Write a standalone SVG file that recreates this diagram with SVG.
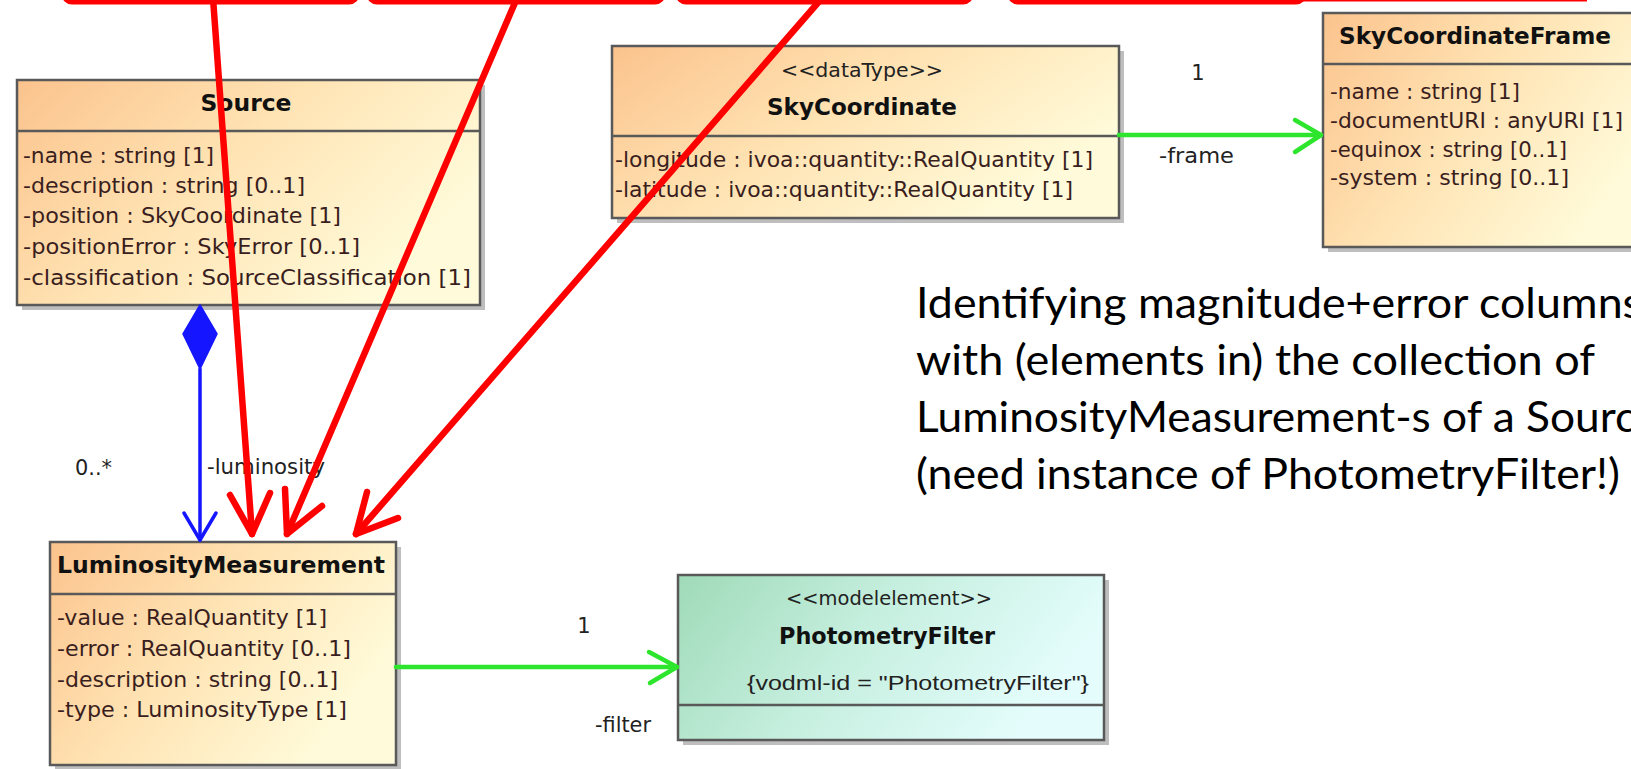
<svg xmlns="http://www.w3.org/2000/svg" width="1631" height="769" viewBox="0 0 1631 769">
<defs>
<linearGradient id="gOrange" x1="0" y1="0" x2="1" y2="0.5">
<stop offset="0" stop-color="#fbc38d"/>
<stop offset="0.5" stop-color="#ffe3b3"/>
<stop offset="1" stop-color="#fffbda"/>
</linearGradient>
<linearGradient id="gGreen" x1="0" y1="0" x2="1" y2="0.3">
<stop offset="0" stop-color="#9fdab8"/>
<stop offset="0.5" stop-color="#c6efdf"/>
<stop offset="1" stop-color="#e4fdfc"/>
</linearGradient>
<style>
.box{stroke:#595959;stroke-width:2.5}
.orange{fill:url(#gOrange)}
.green{fill:url(#gGreen)}
.shadow{fill:#a8a8a8;opacity:0.75}
.div{stroke:#595959;stroke-width:2.5}
.title{font-family:"DejaVu Sans",sans-serif;font-weight:bold;font-size:23px;fill:#111}
.stereo{font-family:"DejaVu Sans",sans-serif;font-size:19px;fill:#222}
.attr{font-family:"DejaVu Sans",sans-serif;font-size:21px;fill:#3a1e1e}
.lbl{font-family:"DejaVu Sans",sans-serif;font-size:21px;fill:#222}
.tag{font-family:"Liberation Sans",sans-serif;font-size:21px;fill:#222}
.note{font-family:"Lato","Open Sans",sans-serif;font-size:42px;fill:#000}
.red{stroke:#ff0000;stroke-width:6.5;fill:none;stroke-linecap:round;stroke-linejoin:round}
.redbox{stroke:#ff0000;stroke-width:5;fill:#fff}
.green-l{stroke:#2ee52e;stroke-width:4.5;fill:none;stroke-linecap:round;stroke-linejoin:round}
.blue-l{stroke:#1515ff;stroke-width:3.5;fill:none;stroke-linecap:round;stroke-linejoin:round}
</style>
</defs>
<rect width="1631" height="769" fill="#fff"/>

<!-- top red boxes -->
<g id="topboxes">
<rect class="redbox" x="64" y="-40" width="293" height="42" rx="8"/>
<rect class="redbox" x="369" y="-40" width="294" height="42" rx="8"/>
<rect class="redbox" x="678" y="-40" width="293" height="42" rx="8"/>
<rect class="redbox" x="1010" y="-40" width="294" height="42" rx="8"/>
<line x1="1300" y1="0.5" x2="1587" y2="0.5" stroke="#ff0000" stroke-width="2"/>
</g>

<!-- Source -->
<g id="Source">
<rect class="shadow" x="22" y="85" width="463" height="225"/>
<rect class="box orange" x="17" y="80" width="463" height="225"/>
<line class="div" x1="17" y1="131" x2="480" y2="131"/>
<text class="title" x="246" y="111" text-anchor="middle" textLength="91" lengthAdjust="spacingAndGlyphs">Source</text>
<text class="attr" x="23" y="163" textLength="191" lengthAdjust="spacingAndGlyphs">-name : string [1]</text>
<text class="attr" x="23" y="193" textLength="282" lengthAdjust="spacingAndGlyphs">-description : string [0..1]</text>
<text class="attr" x="23" y="223" textLength="318" lengthAdjust="spacingAndGlyphs">-position : SkyCoordinate [1]</text>
<text class="attr" x="23" y="254" textLength="337" lengthAdjust="spacingAndGlyphs">-positionError : SkyError [0..1]</text>
<text class="attr" x="23" y="285" textLength="448" lengthAdjust="spacingAndGlyphs">-classification : SourceClassification [1]</text>
</g>

<!-- SkyCoordinate -->
<g id="SkyCoordinate">
<rect class="shadow" x="617" y="51" width="507" height="172"/>
<rect class="box orange" x="612" y="46" width="507" height="172"/>
<line class="div" x1="612" y1="136" x2="1119" y2="136"/>
<text class="stereo" x="862" y="77" text-anchor="middle" textLength="162" lengthAdjust="spacingAndGlyphs">&lt;&lt;dataType&gt;&gt;</text>
<text class="title" x="862" y="115" text-anchor="middle" textLength="190" lengthAdjust="spacingAndGlyphs">SkyCoordinate</text>
<text class="attr" x="615" y="167" textLength="478" lengthAdjust="spacingAndGlyphs">-longitude : ivoa::quantity::RealQuantity [1]</text>
<text class="attr" x="615" y="197" textLength="458" lengthAdjust="spacingAndGlyphs">-latitude : ivoa::quantity::RealQuantity [1]</text>
</g>

<!-- SkyCoordinateFrame -->
<g id="SkyCoordinateFrame">
<rect class="shadow" x="1328" y="18" width="340" height="234"/>
<rect class="box orange" x="1323" y="13" width="340" height="234"/>
<line class="div" x1="1323" y1="64" x2="1663" y2="64"/>
<text class="title" x="1339" y="44" textLength="272" lengthAdjust="spacingAndGlyphs">SkyCoordinateFrame</text>
<text class="attr" x="1330" y="99" textLength="190" lengthAdjust="spacingAndGlyphs">-name : string [1]</text>
<text class="attr" x="1330" y="128" textLength="293" lengthAdjust="spacingAndGlyphs">-documentURI : anyURI [1]</text>
<text class="attr" x="1330" y="157" textLength="237" lengthAdjust="spacingAndGlyphs">-equinox : string [0..1]</text>
<text class="attr" x="1330" y="185" textLength="239" lengthAdjust="spacingAndGlyphs">-system : string [0..1]</text>
</g>

<!-- LuminosityMeasurement -->
<g id="LuminosityMeasurement">
<rect class="shadow" x="55" y="547" width="346" height="223"/>
<rect class="box orange" x="50" y="542" width="346" height="223"/>
<line class="div" x1="50" y1="594" x2="396" y2="594"/>
<text class="title" x="221" y="573" text-anchor="middle" textLength="328" lengthAdjust="spacingAndGlyphs">LuminosityMeasurement</text>
<text class="attr" x="57" y="625" textLength="270" lengthAdjust="spacingAndGlyphs">-value : RealQuantity [1]</text>
<text class="attr" x="57" y="656" textLength="294" lengthAdjust="spacingAndGlyphs">-error : RealQuantity [0..1]</text>
<text class="attr" x="57" y="687" textLength="281" lengthAdjust="spacingAndGlyphs">-description : string [0..1]</text>
<text class="attr" x="57" y="717" textLength="290" lengthAdjust="spacingAndGlyphs">-type : LuminosityType [1]</text>
</g>

<!-- PhotometryFilter -->
<g id="PhotometryFilter">
<rect class="shadow" x="683" y="580" width="426" height="165"/>
<rect class="box green" x="678" y="575" width="426" height="165"/>
<line class="div" x1="678" y1="705" x2="1104" y2="705"/>
<text class="stereo" x="889" y="605" text-anchor="middle" textLength="206" lengthAdjust="spacingAndGlyphs">&lt;&lt;modelelement&gt;&gt;</text>
<text class="title" x="887" y="644" text-anchor="middle" textLength="216" lengthAdjust="spacingAndGlyphs">PhotometryFilter</text>
<text class="tag" x="747" y="690" textLength="342" lengthAdjust="spacingAndGlyphs">{vodml-id = "PhotometryFilter"}</text>
</g>

<!-- connectors -->
<g id="connectors">
<!-- SkyCoordinate -> SkyCoordinateFrame -->
<line class="green-l" x1="1119" y1="135" x2="1321" y2="135"/>
<polyline class="green-l" points="1295,120 1321,135 1295,152"/>
<text class="lbl" x="1198" y="80" text-anchor="middle">1</text>
<text class="lbl" x="1159" y="163" textLength="75" lengthAdjust="spacingAndGlyphs">-frame</text>
<!-- Source composition LuminosityMeasurement -->
<polygon points="200,305 217,334 200,369 183,334" fill="#1515ff" stroke="#1515ff" stroke-width="1.5" stroke-linejoin="round"/>
<line class="blue-l" x1="200" y1="369" x2="200" y2="540"/>
<polyline class="blue-l" points="184,513 200,540 216,513"/>
<text class="lbl" x="75" y="475" textLength="37" lengthAdjust="spacingAndGlyphs">0..*</text>
<text class="lbl" x="207" y="474" textLength="118" lengthAdjust="spacingAndGlyphs">-luminosity</text>
<!-- LuminosityMeasurement -> PhotometryFilter -->
<line class="green-l" x1="396" y1="667" x2="677" y2="667"/>
<polyline class="green-l" points="649,652 677,667 650,683"/>
<text class="lbl" x="584" y="633" text-anchor="middle">1</text>
<text class="lbl" x="595" y="732" textLength="56" lengthAdjust="spacingAndGlyphs">-filter</text>
<!-- red annotation arrows -->
<line class="red" x1="213" y1="-2" x2="252" y2="534"/>
<polyline class="red" points="230,495 252,534 270,493"/>
<line class="red" x1="517" y1="-2" x2="287" y2="534"/>
<polyline class="red" points="285,489 287,534 322,506"/>
<line class="red" x1="822" y1="-2" x2="356" y2="534"/>
<polyline class="red" points="367,492 356,534 398,518"/>
</g>

<!-- annotation -->
<g id="note">
<text class="note" x="916" y="318" textLength="726" lengthAdjust="spacingAndGlyphs">Identifying magnitude+error columns</text>
<text class="note" x="916" y="375" textLength="679" lengthAdjust="spacingAndGlyphs">with (elements in) the collection of</text>
<text class="note" x="916" y="432" textLength="743" lengthAdjust="spacingAndGlyphs">LuminosityMeasurement-s of a Source</text>
<text class="note" x="916" y="489" textLength="704" lengthAdjust="spacingAndGlyphs">(need instance of PhotometryFilter!)</text>
</g>
</svg>
